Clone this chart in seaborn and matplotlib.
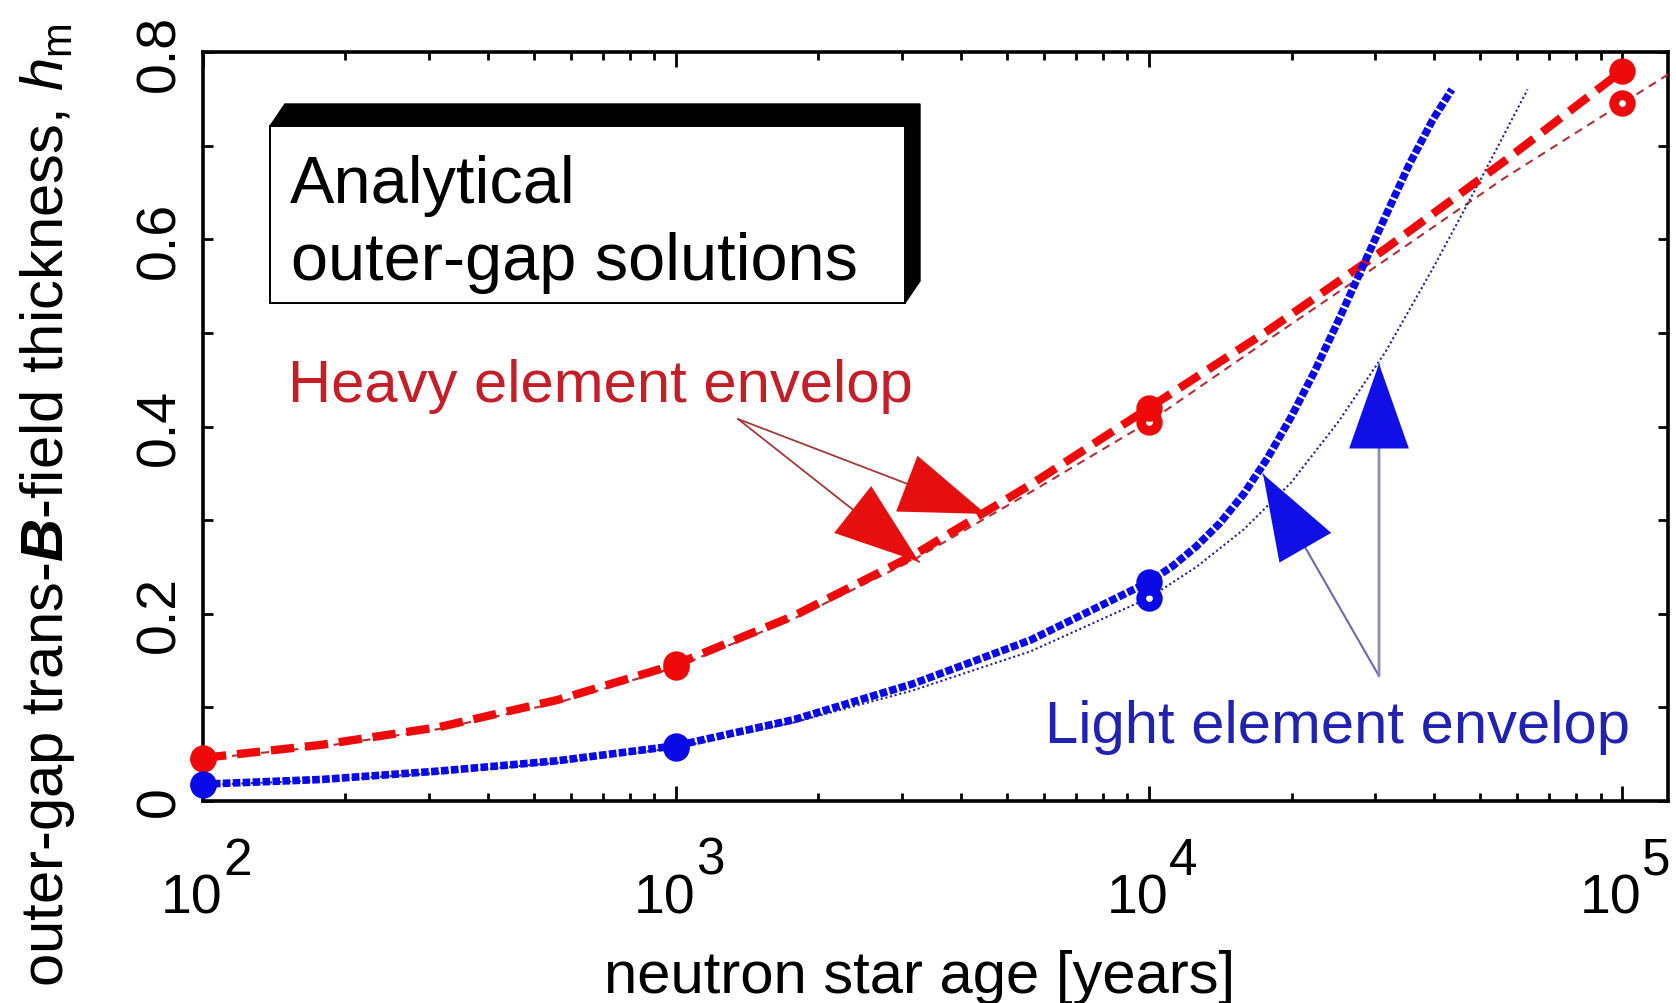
import matplotlib
matplotlib.use("Agg")
import matplotlib.pyplot as plt
import pandas as pd
import seaborn as sns
from matplotlib.patches import Polygon, Rectangle
from matplotlib.ticker import FixedLocator, LogLocator, MultipleLocator, NullFormatter

# ---------------- data: outer-gap thickness h_m vs. neutron star age ----------------
# heavy element envelope, analytical solution (thick dashed)
age_heavy = [100, 178, 316, 562, 1000, 1778, 3162, 5623, 10000, 17783, 31623, 56234, 100000]
hm_heavy = [0.046, 0.060, 0.079, 0.108, 0.146, 0.198, 0.262, 0.338, 0.420, 0.502, 0.590, 0.683, 0.780]
# heavy element envelope, second solution (thin dashed)
age_heavy_2 = [100, 178, 316, 562, 1000, 1778, 3162, 5623, 10000, 17783, 31623, 56234, 100000, 125000]
hm_heavy_2 = [0.045, 0.058, 0.077, 0.105, 0.143, 0.195, 0.257, 0.330, 0.405, 0.492, 0.578, 0.665, 0.745, 0.776]
# light element envelope, analytical solution (thick dotted)
age_light = [100, 178, 316, 562, 1000, 1778, 3162, 5623, 10000, 11220, 12589, 14125, 15849,
             17783, 19953, 22387, 25119, 28184, 31623, 35481, 39811, 43652]
hm_light = [0.018, 0.023, 0.032, 0.043, 0.059, 0.087, 0.125, 0.172, 0.234, 0.251, 0.272, 0.297,
            0.328, 0.366, 0.410, 0.459, 0.513, 0.569, 0.625, 0.680, 0.728, 0.760]
# light element envelope, second solution (thin dotted)
age_light_2 = [100, 178, 316, 562, 1000, 1778, 3162, 5623, 10000, 12589, 15849, 19953, 25119,
               31623, 39811, 50119, 63096]
hm_light_2 = [0.017, 0.022, 0.030, 0.041, 0.057, 0.084, 0.118, 0.160, 0.217, 0.250, 0.290, 0.340,
              0.405, 0.480, 0.569, 0.663, 0.760]

decade_ages = [100, 1000, 10000, 100000]
decade_exponents = ["2", "3", "4", "5"]
ytick_values = [0, 0.2, 0.4, 0.6, 0.8]
ytick_labels = ["0", "0.2", "0.4", "0.6", "0.8"]

box_lines = ["Analytical", "outer-gap solutions"]
heavy_label = "Heavy element envelop"
light_label = "Light element envelop"
xlabel = "neutron star age [years]"
ylabel = r"outer-gap trans-$\mathbfit{B}$-field thickness, $h_{\mathrm{m}}$"

# ---------------- style ----------------
sns.set_theme(style="ticks")
plt.rcParams["font.family"] = ["Liberation Sans", "DejaVu Sans"]
plt.rcParams["text.color"] = "black"
plt.rcParams["axes.labelcolor"] = "black"
plt.rcParams["xtick.color"] = "black"
plt.rcParams["ytick.color"] = "black"
plt.rcParams["mathtext.fontset"] = "custom"
plt.rcParams["mathtext.rm"] = "Liberation Sans"
plt.rcParams["mathtext.it"] = "Liberation Sans:italic"
plt.rcParams["mathtext.bf"] = "Liberation Sans:bold"
try:
    plt.rcParams["mathtext.bfit"] = "Liberation Sans:italic:bold"
except KeyError:
    pass

W, H = 1676, 1004
fig = plt.figure(figsize=(W / 100, H / 100), dpi=100)
fig.patch.set_facecolor("white")
ax = fig.add_axes([203 / W, 1 - 802 / H, 1465 / W, 749 / H])
ax.set_facecolor("white")
ax.set_xscale("log")


def decade_idx(ages):
    return [i for i, a in enumerate(ages) if a in decade_ages]


RED = "#ee0a0a"
RED_THIN = "#b0303a"
BLUE = "#0a0ae6"
BLUE_THIN = "#22228a"

# (ages, values, line colour, width, dash pattern, marker colour, marker face, zorder)
series = [
    (age_heavy_2, hm_heavy_2, RED_THIN, 1.5, (0, (4, 3)), RED, "white", 3),
    (age_light_2, hm_light_2, BLUE_THIN, 1.5, (0, (1, 1.3)), BLUE, "white", 3),
    (age_heavy, hm_heavy, RED, 6.0, (0, (2.8, 1.3)), RED, RED, 4),
    (age_light, hm_light, BLUE, 5.5, (0, (1.0, 0.3)), BLUE, BLUE, 4),
]
for ages, vals, col, lw, ls, mcol, mface, z in series:
    df = pd.DataFrame({"age": ages, "hm": vals})
    sns.lineplot(
        data=df, x="age", y="hm", ax=ax, color=col, linewidth=lw, linestyle=ls,
        marker="o", markevery=decade_idx(ages), markersize=12,
        markerfacecolor=mface, markeredgecolor=mcol,
        markeredgewidth=7, zorder=z, clip_on=False,
    )

ax.set_xlim(100, 125000)
ax.set_ylim(0, 0.8)

# ---------------- axes frame and ticks ----------------
for sp in ax.spines.values():
    sp.set_visible(True)
    sp.set_linewidth(2.6)
    sp.set_color("black")
    sp.set_zorder(2)

ax.xaxis.set_major_locator(FixedLocator(decade_ages))
ax.xaxis.set_minor_locator(LogLocator(base=10, subs=range(2, 10)))
ax.xaxis.set_major_formatter(NullFormatter())
ax.xaxis.set_minor_formatter(NullFormatter())
ax.set_yticks(ytick_values)
ax.set_yticklabels(ytick_labels)
ax.yaxis.set_minor_locator(MultipleLocator(0.1))

ax.tick_params(axis="both", which="both", direction="in", top=True, right=True,
               color="black", labelcolor="black", width=2.0)
ax.tick_params(axis="x", which="major", length=11)
ax.tick_params(axis="x", which="minor", length=6)
ax.tick_params(axis="y", which="both", length=7)
ax.tick_params(axis="y", which="major", labelsize=40, labelrotation=90, pad=12)
for lab in ax.get_yticklabels():
    lab.set_va("center")

# decade labels as 10 with raised exponent
for age, ex in zip(decade_ages, decade_exponents):
    ax.annotate("10", xy=(age, 0), xycoords=("data", "axes fraction"),
                xytext=(19, -112), textcoords="offset pixels",
                ha="right", va="baseline", fontsize=40, color="black")
    ax.annotate(ex, xy=(age, 0), xycoords=("data", "axes fraction"),
                xytext=(20, -73), textcoords="offset pixels",
                ha="left", va="baseline", fontsize=37, color="black")

ax.set_xlabel(xlabel, fontsize=43, color="black")
ax.xaxis.set_label_coords(920 / W, 1 - 993 / H, transform=fig.transFigure)
ax.xaxis.label.set_va("baseline")
ax.xaxis.label.set_ha("center")

ax.set_ylabel(ylabel, fontsize=43, color="black")
ax.yaxis.label.set_rotation_mode("default")
ax.yaxis.label.set_va("center")
ax.yaxis.label.set_ha("center")
ax.yaxis.set_label_coords(48 / W, 1 - 505 / H, transform=fig.transFigure)

# ---------------- curve labels and arrows ----------------
ax.text(151, 0.427, heavy_label, fontsize=43, color="#c41f28", va="baseline", ha="left", zorder=7)
ax.text(6026, 0.063, light_label, fontsize=43, color="#2222b0", va="baseline", ha="left", zorder=7)

head = "-|>,head_length=61,head_width=21.5"


def arrow(tail, tip, shaft_col, head_col, shaft_lw):
    ax.annotate("", xy=tip, xytext=tail,
                arrowprops=dict(arrowstyle="-", color=shaft_col, lw=shaft_lw,
                                shrinkA=0, shrinkB=0, mutation_scale=1), zorder=7)
    ax.annotate("", xy=tip, xytext=tail,
                arrowprops=dict(arrowstyle=head, fc=head_col, ec="none", lw=0,
                                shrinkA=0, shrinkB=0, mutation_scale=1), zorder=7)


arrow((1352, 0.408), (4519, 0.3066), "#a03a3a", "#e60f0f", 1.3)
arrow((1352, 0.408), (3266, 0.2553), "#a03a3a", "#e60f0f", 1.3)
arrow((30620, 0.1335), (17420, 0.349), "#6a6aa8", "#1010e6", 1.5)
arrow((30620, 0.1335), (30620, 0.467), "#8a8ab8", "#1010e6", 2.0)

# ---------------- framed title box with extruded shadow ----------------
x0, x1, yt, yb = 270, 905, 127, 304
dx, dy = 15, -22


def fpt(x, y):
    return (x / W, 1 - y / H)


hull = [fpt(x0, yt), fpt(x0 + dx, yt + dy), fpt(x1 + dx, yt + dy),
        fpt(x1 + dx, yb + dy), fpt(x1, yb), fpt(x0, yb)]
fig.add_artist(Polygon(hull, closed=True, transform=fig.transFigure,
                       facecolor="black", edgecolor="black", zorder=8))
fig.add_artist(Rectangle(fpt(x0, yb), (x1 - x0) / W, (yb - yt) / H,
                         transform=fig.transFigure, facecolor="white",
                         edgecolor="black", linewidth=1.4, zorder=9))
fig.text(290 / W, 1 - 203 / H, box_lines[0], fontsize=48, color="black",
         ha="left", va="baseline", zorder=10)
fig.text(291 / W, 1 - 280 / H, box_lines[1], fontsize=48, color="black",
         ha="left", va="baseline", zorder=10)

fig.savefig("out.png", dpi=100, facecolor="white")
